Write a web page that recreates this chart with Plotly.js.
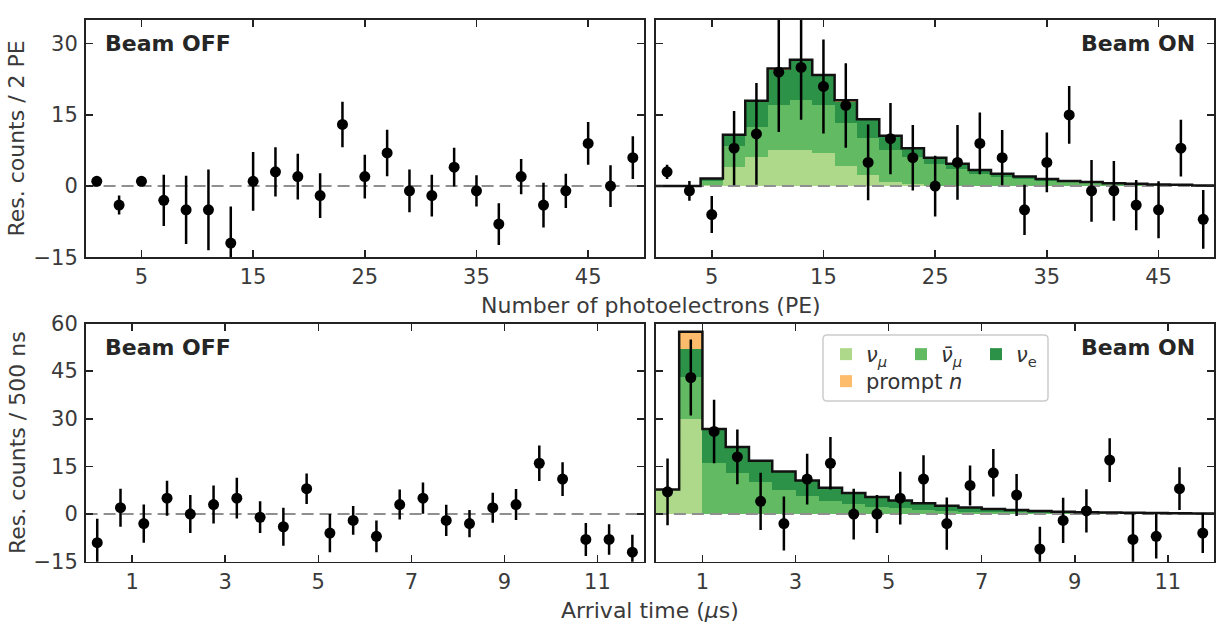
<!DOCTYPE html>
<html><head><meta charset="utf-8">
<script src="https://cdn.plot.ly/plotly-3.0.1.min.js"></script>
<style>html,body{margin:0;padding:0;background:#fff}</style>
</head><body><div id="chart" style="width:1228px;height:627px"></div>
<script>
// ---------- data ----------
const peCenters = [1,3,5,7,9,11,13,15,17,19,21,23,25,27,29,31,33,35,37,39,41,43,45,47,49];
const peEdges = [0,2,4,6,8,10,12,14,16,18,20,22,24,26,28,30,32,34,36,38,40,42,44,46,48,50];
const peRange = [0, 50];
const peTicks = [5, 15, 25, 35, 45];
const peYRange = [-15, 35];
const peYTicks = [-15, 0, 15, 30];

const peOffCounts = [1,-4,1,-3,-5,-5,-12,1,3,2,-2,13,2,7,-1,-2,4,-1,-8,2,-4,-1,9,0,6];
const peOffErr = [0.8,2,0.8,5.4,7.2,8.5,7.7,6.2,5.2,4.8,4.7,4.8,4.6,4.9,4.5,4.4,4.1,3.3,4.4,3.7,4.7,3.6,4.5,4.4,4.5];
const peOnCounts = [3,-1,-6,8,11,24,25,21,17,5,10,6,0,5,9,6,-5,5,15,-1,-1,-4,-5,8,-7];
const peOnErr = [1.5,2.1,3.9,7.8,10.7,12.6,11,9.9,8.9,8,7.5,6.9,6.4,7.9,6.5,5.8,5.3,6.3,6.1,6.5,6.3,5.3,6,6,6.2];

const peNuMu = [0,0,0.3,4.0,6.2,7.6,7.6,6.9,4.3,2.3,0.9,0.4,0.1,0,0,0,0,0,0,0,0,0,0,0,0];
const peNuMuBar = [0,0,0.8,4.4,6.3,9.5,10.5,10.2,8.9,7.8,6.7,5.7,4.5,3.6,2.6,2.0,1.5,1.1,0.8,0.62,0.45,0.37,0.26,0.22,0.11];
const peNuE = [0,0,0.5,2.4,5.3,7.4,8.2,6.0,4.6,3.8,2.8,1.8,1.4,1.1,0.8,0.6,0.5,0.4,0.3,0.23,0.15,0.13,0.09,0.08,0.04];
const pePromptN = [0,0,0,0,0.2,0.3,0.3,0.3,0.3,0.2,0.2,0.1,0,0,0,0,0,0,0,0,0,0,0,0,0];

const timeCenters = [0.25,0.75,1.25,1.75,2.25,2.75,3.25,3.75,4.25,4.75,5.25,5.75,6.25,6.75,7.25,7.75,8.25,8.75,9.25,9.75,10.25,10.75,11.25,11.75];
const timeEdges = [0,0.5,1,1.5,2,2.5,3,3.5,4,4.5,5,5.5,6,6.5,7,7.5,8,8.5,9,9.5,10,10.5,11,11.5,12];
const timeRange = [0, 12];
const timeTicks = [1, 3, 5, 7, 9, 11];
const timeYRange = [-15, 60];
const timeYTicks = [-15, 0, 15, 30, 45, 60];

const timeOffCounts = [-9,2,-3,5,0,3,5,-1,-4,8,-6,-2,-7,3,5,-2,-3,2,3,16,11,-8,-8,-12];
const timeOffErr = [7.5,6,6,5.5,6,6,6.4,5,6,4.8,6,4.5,5,4.7,4.9,4.9,4.3,4.7,4.9,5.6,5.3,5.2,4.8,5.5];
const timeOnCounts = [7,43,26,18,4,-3,11,16,0,0,5,11,-3,9,13,6,-11,-2,1,17,-8,-7,8,-6];
const timeOnErr = [10.5,12,10,8.6,9,8.5,8,8.3,8,6,8.3,7.5,8.2,6.3,7.5,6.6,7,7.1,6.8,6.9,8,7,6.7,6.3];

const timeNuMu = [7.7,30,0,0,0,0,0,0,0,0,0,0,0,0,0,0,0,0,0,0,0,0,0,0];
const timeNuMuBar = [0,13,16,13,10.1,7.6,5.7,4.1,3.1,2.3,1.8,1.4,1.1,0.8,0.6,0.5,0.4,0.3,0.25,0.2,0.15,0.12,0.1,0.08];
const timeNuE = [0,9,10.8,8.1,6.7,5.8,4.9,4.2,3.5,3.1,2.5,2.0,1.5,1.3,1.0,0.8,0.6,0.45,0.35,0.3,0.25,0.18,0.15,0.12];
const timePromptN = [0,5.4,0,0,0,0,0,0,0,0,0,0,0,0,0,0,0,0,0,0,0,0,0,0];

const zeroLevel = [0, 0];

const seriesNames = ['<i>ν</i><sub><i>μ</i></sub>', '<i>ν̄</i><sub><i>μ</i></sub>', '<i>ν</i><sub>e</sub>', 'prompt <i>n</i>'];
const seriesColors = ['#afd98a', '#62bb63', '#2b9247', '#fdbb6c'];

// ---------- build traces ----------
const FONT = 'DejaVu Sans';
function sumStack(arrs) {
  return arrs[0].map((_, i) => arrs.reduce((s, a) => s + a[i], 0));
}
function stepY(tot) { return tot.concat([tot[tot.length - 1]]); }

const traces = [];
function addHist(xa, ya, centers, comps, binW, legendOn) {
  comps.forEach((vals, k) => {
    traces.push({
      type: 'bar', x: centers, y: vals, width: binW, xaxis: xa, yaxis: ya,
      marker: {color: seriesColors[k], line: {width: 0}},
      name: seriesNames[k], showlegend: legendOn,
      legend: k === 3 ? 'legend2' : 'legend', hoverinfo: 'skip'
    });
  });
}
function addZero(xa, ya, rng) {
  traces.push({type: 'scatter', mode: 'lines', x: rng, y: zeroLevel, xaxis: xa, yaxis: ya,
    line: {color: '#8f8f8f', width: 2, dash: '12px,6px'}, showlegend: false, hoverinfo: 'skip'});
}
function addOutline(xa, ya, edges, comps) {
  traces.push({type: 'scatter', mode: 'lines', x: edges, y: stepY(sumStack(comps)), xaxis: xa, yaxis: ya,
    line: {color: '#111', width: 2.5, shape: 'hv'}, showlegend: false, hoverinfo: 'skip'});
}
function addPoints(xa, ya, xs, ys, es) {
  traces.push({type: 'scatter', mode: 'markers', x: xs, y: ys, xaxis: xa, yaxis: ya,
    marker: {color: '#000', size: 11},
    error_y: {type: 'data', array: es, visible: true, color: '#000', thickness: 2.5, width: 0},
    showlegend: false});
}

const peComps = [peNuMu, peNuMuBar, peNuE, pePromptN];
const timeComps = [timeNuMu, timeNuMuBar, timeNuE, timePromptN];

// panel 1: PE, beam off
addZero('x', 'y', peRange);
addPoints('x', 'y', peCenters, peOffCounts, peOffErr);
// panel 2: PE, beam on
addHist('x2', 'y2', peCenters, peComps, 2, false);
addZero('x2', 'y2', peRange);
addOutline('x2', 'y2', peEdges, peComps);
addPoints('x2', 'y2', peCenters, peOnCounts, peOnErr);
// panel 3: time, beam off
addZero('x3', 'y3', timeRange);
addPoints('x3', 'y3', timeCenters, timeOffCounts, timeOffErr);
// panel 4: time, beam on
addHist('x4', 'y4', timeCenters, timeComps, 0.5, true);
addZero('x4', 'y4', timeRange);
addOutline('x4', 'y4', timeEdges, timeComps);
addPoints('x4', 'y4', timeCenters, timeOnCounts, timeOnErr);

// ---------- layout ----------
const W = 1228, H = 627;
const colL = [85.6 / W, 644 / W], colR = [655.9 / W, 1214.4 / W];
const rowT = [1 - 257.3 / H, 1 - 20 / H], rowB = [1 - 561.7 / H, 1 - 323.5 / H];

function xax(dom, rng, ticks, anchor) {
  return {domain: dom, range: rng, tickvals: ticks, anchor: anchor, showgrid: false, zeroline: false,
    showline: true, linecolor: '#222', linewidth: 1.6, mirror: 'ticks', ticks: 'inside', ticklen: 7,
    tickwidth: 1.5, tickcolor: '#222', tickfont: {family: FONT, size: 21, color: '#3a3a3a'}, fixedrange: true};
}
function yax(dom, rng, ticks, anchor, labels) {
  const a = xax(dom, rng, ticks, anchor);
  a.showticklabels = labels;
  a.ticklabelstandoff = 2;
  return a;
}

function panelLabel(txt, xref, yref, right) {
  return {text: '<b>' + txt + '</b>', xref: xref + ' domain', yref: yref + ' domain',
    x: right ? 0.969 : 0.031, xanchor: right ? 'right' : 'left', y: 0.90, yanchor: 'middle',
    showarrow: false, font: {family: FONT, size: 22, color: '#262626'}};
}
function titleNote(txt, x, y, angle) {
  return {text: txt, xref: 'paper', yref: 'paper', x: x, y: y, xanchor: 'center', yanchor: 'middle',
    textangle: angle, showarrow: false, font: {family: FONT, size: 22, color: '#3a3a3a'}};
}

// legend frame (rounded rectangle in paper coords)
const bx0 = 823 / W, bx1 = 1048 / W, by0 = 1 - 401 / H, by1 = 1 - 335 / H;
const rx = 4 / W, ry = 4 / H;
const boxPath = `M${bx0 + rx},${by0} L${bx1 - rx},${by0} Q${bx1},${by0} ${bx1},${by0 + ry} L${bx1},${by1 - ry} Q${bx1},${by1} ${bx1 - rx},${by1} L${bx0 + rx},${by1} Q${bx0},${by1} ${bx0},${by1 - ry} L${bx0},${by0 + ry} Q${bx0},${by0} ${bx0 + rx},${by0} Z`;

const legendCommon = {orientation: 'h', xref: 'paper', yref: 'paper', xanchor: 'left', yanchor: 'top',
  bgcolor: 'rgba(0,0,0,0)', borderwidth: 0, traceorder: 'normal',
  font: {family: FONT, size: 21, color: '#333'}, itemclick: false, itemdoubleclick: false};

const layout = {
  width: W, height: H, margin: {l: 0, r: 0, t: 0, b: 0},
  paper_bgcolor: '#fff', plot_bgcolor: '#fff',
  barmode: 'stack', bargap: 0,
  xaxis: xax(colL, peRange, peTicks, 'y'),
  yaxis: yax(rowT, peYRange, peYTicks, 'x', true),
  xaxis2: xax(colR, peRange, peTicks, 'y2'),
  yaxis2: yax(rowT, peYRange, peYTicks, 'x2', false),
  xaxis3: xax(colL, timeRange, timeTicks, 'y3'),
  yaxis3: yax(rowB, timeYRange, timeYTicks, 'x3', true),
  xaxis4: xax(colR, timeRange, timeTicks, 'y4'),
  yaxis4: yax(rowB, timeYRange, timeYTicks, 'x4', false),
  legend: Object.assign({}, legendCommon, {x: 826 / W, y: 1 - 334 / H, entrywidth: 30, entrywidthmode: 'pixels'}),
  legend2: Object.assign({}, legendCommon, {x: 826 / W, y: 1 - 361 / H}),
  shapes: [{type: 'path', xref: 'paper', yref: 'paper', path: boxPath, layer: 'above',
    line: {color: '#cccccc', width: 1.5}, fillcolor: 'rgba(255,255,255,0.85)'}],
  annotations: [
    panelLabel('Beam OFF', 'x', 'y', false),
    panelLabel('Beam ON', 'x2', 'y2', true),
    panelLabel('Beam OFF', 'x3', 'y3', false),
    panelLabel('Beam ON', 'x4', 'y4', true),
    titleNote('Number of photoelectrons (PE)', 650.5 / W, 1 - 305 / H, 0),
    titleNote('Arrival time (<i>μ</i>s)', 650 / W, 1 - 610 / H, 0),
    titleNote('Res. counts / 2 PE', 17 / W, 1 - 138.6 / H, -90),
    titleNote('Res. counts / 500 ns', 17 / W, 1 - 443 / H, -90)
  ]
};

Plotly.newPlot('chart', traces, layout, {staticPlot: true, displayModeBar: false});
</script></body></html>
